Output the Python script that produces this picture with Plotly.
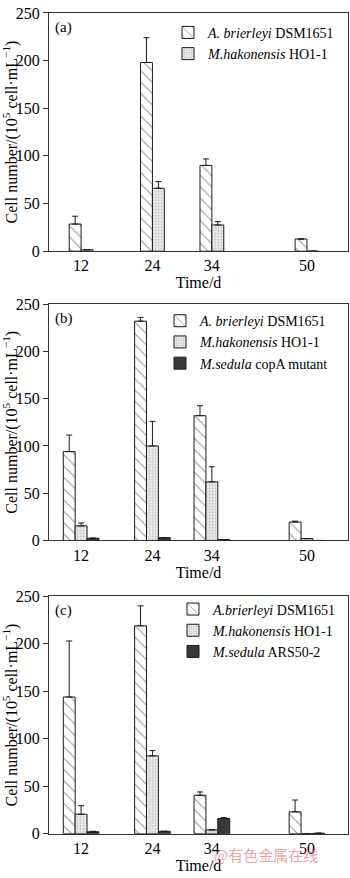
import plotly.graph_objects as go

times = [12, 24, 34, 50]

# Panel (a)
a_brier = [28.5, 198, 90, 12.8]
a_brier_err = [8.2, 26, 6.8, 0]
a_hako = [1.5, 66, 27.5, 0]
a_hako_err = [0, 7, 3.5, 0]

# Panel (b)
b_brier = [94, 232, 132, 19.5]
b_brier_err = [17.5, 4, 10.5, 1]
b_hako = [15.5, 100, 62, 2]
b_hako_err = [3, 26, 16, 0]
b_sedula = [2.4, 3, 1, 0]
b_sedula_err = [0, 0, 0, 0]

# Panel (c)
c_brier = [144, 219, 40.5, 23]
c_brier_err = [59, 21, 3.5, 12.5]
c_hako = [20.5, 82, 4, 0]
c_hako_err = [9, 5.5, 0, 0]
c_sedula = [2, 2.5, 16, 0.5]
c_sedula_err = [0.5, 0, 1, 0]

names_a = ["<i>A. brierleyi</i> DSM1651", "<i>M.hakonensis</i> HO1-1"]
names_b = ["<i>A. brierleyi</i> DSM1651", "<i>M.hakonensis</i> HO1-1", "<i>M.sedula</i> copA mutant"]
names_c = ["<i>A.brierleyi</i> DSM1651", "<i>M.hakonensis</i> HO1-1", "<i>M.sedula</i> ARS50-2"]

SERIF = "Liberation Serif"
patterns = [
    dict(shape="\\", fgcolor="#222222", bgcolor="white", size=8, solidity=0.12),
    dict(shape=".", fgcolor="#9a9a9a", bgcolor="#ececec", size=3, solidity=0.3),
    dict(shape="x", fgcolor="#777777", bgcolor="#2e2e2e", size=3, solidity=0.35),
]

BW = 2.0
fig = go.Figure()

panels = [
    ("x", "y", "legend", names_a, [(a_brier, a_brier_err), (a_hako, a_hako_err)]),
    ("x2", "y2", "legend2", names_b, [(b_brier, b_brier_err), (b_hako, b_hako_err), (b_sedula, b_sedula_err)]),
    ("x3", "y3", "legend3", names_c, [(c_brier, c_brier_err), (c_hako, c_hako_err), (c_sedula, c_sedula_err)]),
]

for xa, ya, lg, names, series in panels:
    n = len(series)
    for i, ((vals, errs), nm) in enumerate(zip(series, names)):
        fig.add_trace(go.Bar(
            x=times, y=vals, name=nm,
            xaxis=xa, yaxis=ya, legend=lg,
            width=BW, offset=-n * BW / 2 + i * BW,
            marker=dict(color=patterns[i]["bgcolor"], line=dict(color="#1a1a1a", width=1),
                        pattern=patterns[i]),
            error_y=dict(type="data", symmetric=False, array=errs, arrayminus=[0] * len(errs),
                         color="#1a1a1a", thickness=1, width=3),
        ))

H = 878.0
W = 350.0
xdom = [49 / W, 348 / W]
ydoms = [
    [1 - 248 / H, 1 - 5 / H],
    [1 - 543 / H, 1 - 302 / H],
    [1 - 842 / H, 1 - 600 / H],
]

axis_common = dict(showline=True, linecolor="#333333", linewidth=1, mirror=True,
                   showgrid=False, zeroline=False,
                   tickfont=dict(family=SERIF, size=16, color="black"))

layout = dict(
    width=350, height=878,
    margin=dict(l=0, r=0, t=0, b=0),
    paper_bgcolor="white", plot_bgcolor="white",
    barmode="overlay",
    font=dict(family=SERIF, size=14, color="black"),
)

ytitle = "Cell number/(10<sup>5</sup> cell·mL<sup>−1</sup>)"
for k in range(3):
    sx = "" if k == 0 else str(k + 1)
    layout["xaxis" + sx] = dict(
        axis_common, domain=xdom, range=[6.6, 56.9], anchor="y" + sx,
        tickvals=times, ticktext=[str(t) for t in times], ticks="",
        title=dict(text="Time/d", font=dict(family=SERIF, size=16), standoff=0),
    )
    layout["yaxis" + sx] = dict(
        axis_common, domain=ydoms[k], range=[0, 250], anchor="x" + sx,
        tickvals=[0, 50, 100, 150, 200, 250], ticks="outside", ticklen=5, tickcolor="#333333",
        title=dict(text=ytitle, font=dict(family=SERIF, size=16), standoff=3),
    )

leg_common = dict(font=dict(family=SERIF, size=14, color="black"), bgcolor="rgba(0,0,0,0)",
                  xanchor="left", yanchor="top", itemwidth=30, tracegroupgap=0,
                  itemclick=False)
layout["legend"] = dict(leg_common, x=168 / W, y=1 - 9 / H)
layout["legend2"] = dict(leg_common, x=160 / W, y=1 - 303 / H)
layout["legend3"] = dict(leg_common, x=173 / W, y=1 - 597 / H)

fig.update_layout(**layout)

for lab, ytop in [("(a)", 9), ("(b)", 306), ("(c)", 604)]:
    fig.add_annotation(text=lab, xref="paper", yref="paper", x=53 / W, y=1 - ytop / H,
                       xanchor="left", yanchor="top", showarrow=False,
                       font=dict(family=SERIF, size=15, color="black"))

fig.add_annotation(text="@有色金属在线", xref="paper", yref="paper", x=212 / W, y=1 - 863 / H,
                   xanchor="left", yanchor="middle", showarrow=False,
                   font=dict(family="Noto Sans CJK SC", size=15, color="rgba(220,110,110,0.65)"))

fig.write_html("out.html")
